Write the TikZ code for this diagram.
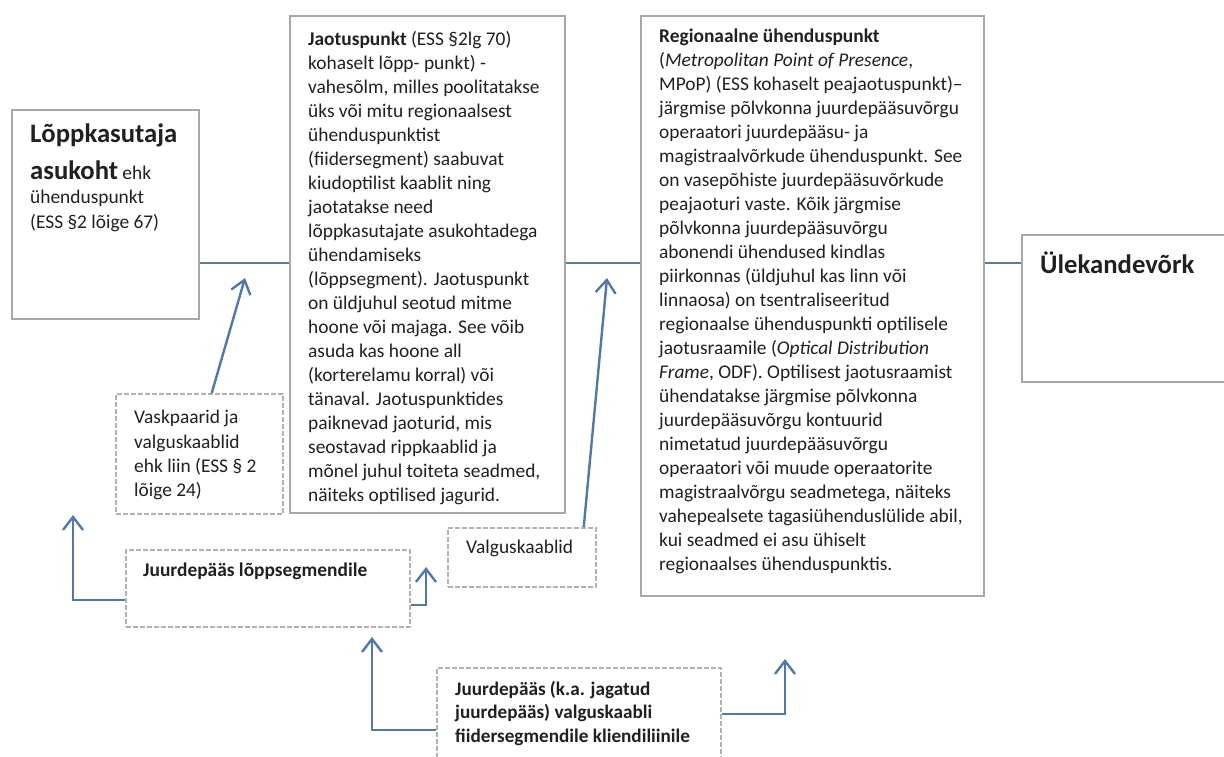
\documentclass[tikz,border=0pt]{standalone}
\usepackage{fontspec}
\setmainfont{Carlito}
\usetikzlibrary{arrows.meta}

\definecolor{boxgray}{RGB}{168,168,168}
\definecolor{dashgray}{RGB}{178,178,178}
\definecolor{linkblue}{RGB}{92,122,144}
\definecolor{arrowblue}{RGB}{84,120,165}
\definecolor{inkgray}{RGB}{32,32,32}

\begin{document}
\begin{tikzpicture}[x=1pt,y=-1pt,
  solidbox/.style={draw=boxgray,line width=1.8pt,rectangle,anchor=north west,inner sep=0pt},
  dashbox/.style={draw=dashgray,line width=1.5pt,dash pattern=on 5pt off 2pt,rectangle,anchor=north west,inner sep=0pt},
  txt/.style={anchor=north west,inner sep=0pt,align=left,text=inkgray,font=\fontsize{19.4}{24}\selectfont},
  big/.style={font=\fontsize{26.7}{32}\selectfont\bfseries},
  link/.style={draw=linkblue,line width=1.6pt},
  arr/.style={draw=arrowblue,line width=2.4pt,-{Straight Barb[length=13pt,width=20pt]}}]
  \clip (0,0) rectangle (1224,756);
  \fill[white] (0,0) rectangle (1224,756);

  % boxes
  \node[solidbox,minimum width=187pt,minimum height=209pt] (lk) at (11,109) {};
  \node[solidbox,minimum width=275pt,minimum height=497pt] (jp) at (289,15) {};
  \node[solidbox,minimum width=343pt,minimum height=580pt] (rp) at (640,15) {};
  \node[solidbox,minimum width=215pt,minimum height=147pt] (uv) at (1021,234) {};
  \node[dashbox,minimum width=167pt,minimum height=120pt] (vp) at (115,393) {};
  \node[dashbox,minimum width=148pt,minimum height=59pt] (vk) at (447,527) {};
  \node[dashbox,minimum width=284pt,minimum height=77pt] (jl) at (125,549) {};
  \node[dashbox,minimum width=284pt,minimum height=110pt] (jf) at (436,667) {};

  % texts
  \node[txt] (lkt) at (30,124) {{\fontsize{26.7}{32}\selectfont\bfseries Lõppkasutaja}\\[13pt]
    {\fontsize{26.7}{32}\selectfont\bfseries asukoht} ehk\\
    ühenduspunkt\\[1pt]
    (ESS §2 lõige 67)};
  \node[txt] (jpt) at (308,31) {\textbf{Jaotuspunkt} (ESS §2lg 70)\\
    kohaselt lõpp- punkt) -\\
    vahesõlm, milles poolitatakse\\
    üks või mitu regionaalsest\\
    ühenduspunktist\\
    (fiidersegment) saabuvat\\
    kiudoptilist kaablit ning\\
    jaotatakse need\\
    lõppkasutajate asukohtadega\\
    ühendamiseks\\
    (lõppsegment). Jaotuspunkt\\
    on üldjuhul seotud mitme\\
    hoone või majaga. See võib\\
    asuda kas hoone all\\
    (korterelamu korral) või\\
    tänaval. Jaotuspunktides\\
    paiknevad jaoturid, mis\\
    seostavad rippkaablid ja\\
    mõnel juhul toiteta seadmed,\\
    näiteks optilised jagurid.};
  \node[txt] (rpt) at (659,29) {\textbf{Regionaalne ühenduspunkt}\\
    (\textit{Metropolitan Point of Presence},\\
    MPoP) (ESS kohaselt peajaotuspunkt)–\\
    järgmise põlvkonna juurdepääsuvõrgu\\
    operaatori juurdepääsu- ja\\
    magistraalvõrkude ühenduspunkt. See\\
    on vasepõhiste juurdepääsuvõrkude\\
    peajaoturi vaste. Kõik järgmise\\
    põlvkonna juurdepääsuvõrgu\\
    abonendi ühendused kindlas\\
    piirkonnas (üldjuhul kas linn või\\
    linnaosa) on tsentraliseeritud\\
    regionaalse ühenduspunkti optilisele\\
    jaotusraamile (\textit{Optical Distribution}\\
    \textit{Frame}, ODF). Optilisest jaotusraamist\\
    ühendatakse järgmise põlvkonna\\
    juurdepääsuvõrgu kontuurid\\
    nimetatud juurdepääsuvõrgu\\
    operaatori või muude operaatorite\\
    magistraalvõrgu seadmetega, näiteks\\
    vahepealsete tagasiühenduslülide abil,\\
    kui seadmed ei asu ühiselt\\
    regionaalses ühenduspunktis.};
  \node[txt,big,anchor=west] (uvt) at (1040,263) {Ülekandevõrk};
  \node[txt,font=\fontsize{19.4}{24.4}\selectfont] (vpt) at (134,410) {Vaskpaarid ja\\
    valguskaablid\\
    ehk liin (ESS § 2\\
    lõige 24)};
  \node[txt] (vkt) at (466,540) {Valguskaablid};
  \node[txt,font=\fontsize{19.4}{24}\selectfont\bfseries] (jlt) at (143,563) {Juurdepääs lõppsegmendile};
  \node[txt,font=\fontsize{19.2}{23.4}\selectfont\bfseries] (jft) at (455,681) {Juurdepääs (k.a. jagatud\\
    juurdepääs) valguskaabli\\
    fiidersegmendile kliendiliinile};

  % connectors
  \coordinate (row) at (0,263);
  \draw[link] (lk.east |- row) -- (jp.west |- row);
  \draw[link] (jp.east |- row) -- (rp.west |- row);
  \draw[link] (rp.east |- row) -- (uv.west |- row);

  \coordinate (vpTip) at (245,278);
  \coordinate (vkTip) at (607,278);
  \coordinate (jlTipL) at (73,515);
  \coordinate (jlTipR) at (426,567);
  \coordinate (jfTipL) at (372,637);
  \coordinate (jfTipR) at (785,659);
  \draw[arr] ([xshift=12.5pt]vp.north) -- (vpTip);
  \draw[arr] ([xshift=62pt]vk.north) -- (vkTip);
  \draw[arr] ([yshift=-11.5pt]jl.west) -| (jlTipL);
  \draw[arr] ([yshift=-16.5pt]jl.east) -| (jlTipR);
  \draw[arr] ([yshift=-7pt]jf.west) -| (jfTipL);
  \draw[arr] ([yshift=9pt]jf.east) -| (jfTipR);
\end{tikzpicture}
\end{document}
